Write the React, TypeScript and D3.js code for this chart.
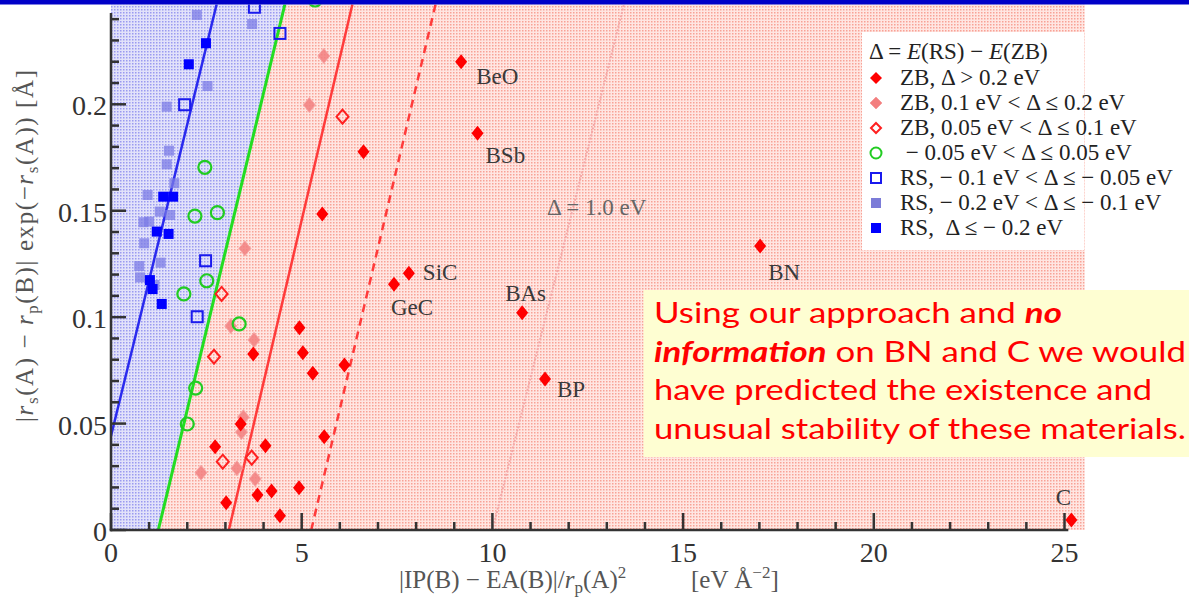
import * as d3 from 'd3';

// axis ticks
const xTicks = [0, 5, 10, 15, 20, 25];
const xTickLabels = ['0', '5', '10', '15', '20', '25'];
const yTicks = [0, 0.05, 0.1, 0.15, 0.2];
const yTickLabels = ['0', '0.05', '0.1', '0.15', '0.2'];

// ZB, Δ > 0.2 eV
const zbStrong = [
  [9.18, 0.22], [9.61, 0.1864], [7.81, 0.1206], [7.42, 0.1154], [10.78, 0.1021],
  [11.38, 0.0709], [17.02, 0.1334], [25.18, 0.0047], [6.62, 0.1777], [5.54, 0.1485],
  [4.94, 0.095], [5.03, 0.0833], [5.29, 0.0736], [6.12, 0.0775], [5.59, 0.0438],
  [3.73, 0.0827], [3.4, 0.0498], [2.73, 0.0391], [4.05, 0.0396], [3.84, 0.0164],
  [4.21, 0.0183], [3.02, 0.0128], [4.43, 0.0067], [4.93, 0.0199],
];
// ZB, 0.1 eV < Δ ≤ 0.2 eV
const zbMid = [
  [5.58, 0.2227], [5.2, 0.1997], [3.51, 0.1323], [3.14, 0.0958], [3.75, 0.0893],
  [3.47, 0.053], [3.42, 0.046], [2.36, 0.0269], [3.3, 0.029], [3.78, 0.024],
];
// ZB, 0.05 eV < Δ ≤ 0.1 eV
const zbWeak = [[6.07, 0.1942], [2.9, 0.1109], [2.7, 0.0814], [2.93, 0.0321], [3.69, 0.034]];
// −0.05 eV < Δ ≤ 0.05 eV
const neutral = [
  [5.35, 0.249], [2.46, 0.1704], [2.2, 0.1475], [2.79, 0.1491], [2.51, 0.1171],
  [1.91, 0.1109], [2.22, 0.0667], [2.0, 0.0498], [3.36, 0.0968],
];
// RS, −0.1 eV < Δ ≤ −0.05 eV
const rsWeak = [[3.76, 0.2456], [4.43, 0.2333], [1.93, 0.1998], [2.48, 0.1265], [2.26, 0.1002]];
// RS, −0.2 eV < Δ ≤ −0.1 eV
const rsMid = [
  [2.25, 0.242], [3.7, 0.2377], [2.53, 0.2086], [1.46, 0.1989], [1.52, 0.1782],
  [1.46, 0.1718], [1.66, 0.1629], [0.96, 0.1574], [1.28, 0.1496], [1.55, 0.148],
  [0.85, 0.1446], [1.0, 0.1449], [0.87, 0.1347], [0.74, 0.124], [1.3, 0.1256],
  [0.76, 0.1187], [1.14, 0.1151],
];
// RS, Δ ≤ −0.2 eV
const rsStrong = [
  [2.49, 0.2287], [2.04, 0.2188], [1.37, 0.1566], [1.63, 0.1566], [1.2, 0.1402],
  [1.51, 0.1391], [1.02, 0.1174], [1.09, 0.1132], [1.33, 0.1062],
];

// named materials
const materials = ['BeO', 'BSb', 'SiC', 'GeC', 'BAs', 'BP', 'BN', 'C'];
const materialX = [9.18, 9.61, 7.81, 7.42, 10.78, 11.38, 17.02, 25.18];
const materialY = [0.22, 0.1864, 0.1206, 0.1154, 0.1021, 0.0709, 0.1334, 0.0047];

// boundary lines, [x, y] at bottom and top of the frame
const blueLine = [[0, 0.0442], [2.77, 0.247]];
const greenLine = [[1.24, 0], [4.56, 0.247]];
const redLine = [[3.09, 0], [6.33, 0.247]];
const redDashed = [[5.25, 0], [8.51, 0.247]];
const oneEvLine = [[10.0, 0], [13.45, 0.247]];

const legendRows = [
  'ZB, Δ > 0.2 eV',
  'ZB, 0.1 eV < Δ ≤ 0.2 eV',
  'ZB, 0.05 eV < Δ ≤ 0.1 eV',
  ' − 0.05 eV < Δ ≤ 0.05 eV',
  'RS, − 0.1 eV < Δ ≤ − 0.05 eV',
  'RS, − 0.2 eV < Δ ≤ − 0.1 eV',
  'RS,  Δ ≤ − 0.2 eV',
];

const noteLines = [
  [['Using our approach and ', false], ['no', true]],
  [['information', true], [' on BN and C we would', false]],
  [['have predicted the existence and', false]],
  [['unusual stability of these materials.', false]],
];

const serif = '"Liberation Serif", "DejaVu Serif", serif';

// label offsets in px for the material names
const labelOffset = {
  BeO: [15, 22, 'start'], BSb: [8, 30, 'start'], SiC: [14, 7, 'start'], GeC: [-3, 31, 'start'],
  BAs: [-17, -12, 'start'], BP: [12, 18, 'start'], BN: [8, 34, 'start'], C: [-8, -15, 'middle'],
};
// rendered width of each note line (the slide font is stretched)
const noteWidths = [408, 532, 498, 532];

const diamond = (w, h) => `M0,${-h / 2}L${w / 2},0L0,${h / 2}L${-w / 2},0Z`;

export default function App() {
  const x = d3.scaleLinear().domain([0, 25]).range([111, 1064.5]);
  const y = d3.scaleLinear().domain([0, 0.2]).range([530, 104.3]);
  const top = 4.5;
  const left = x(0);
  const right = x(25.53);
  const bottom = y(0);
  const yTop = y.invert(top);

  const line = d3.line().x(d => x(d[0])).y(d => y(d[1]));
  const gx = d3.scaleLinear().domain([greenLine[0][1], greenLine[1][1]]).range([greenLine[0][0], greenLine[1][0]]);
  const bluePoly = [[0, 0], [0, yTop], [gx(yTop), yTop], [gx(0), 0]];
  const pinkPoly = [[gx(0), 0], [gx(yTop), yTop], [25.53, yTop], [25.53, 0]];
  const poly = pts => 'M' + pts.map(p => `${x(p[0])},${y(p[1])}`).join('L') + 'Z';

  const xMinor = d3.range(0, 26, 1).filter(v => v % 5 !== 0);
  const yMinor = d3.range(0, 0.245, 0.01).filter((v, i) => i % 5 !== 0);

  const legendBase = [85, 110, 135, 160, 185, 210, 235];
  const symbols = [
    (cx, cy) => <path transform={`translate(${cx},${cy})`} d={diamond(12, 12)} fill="#ff0000" />,
    (cx, cy) => <path transform={`translate(${cx},${cy})`} d={diamond(12, 12)} fill="#f37f7f" stroke="#f6a0a0" />,
    (cx, cy) => <path transform={`translate(${cx},${cy})`} d={diamond(10, 10)} fill="none" stroke="#ff2020" strokeWidth={2} />,
    (cx, cy) => <circle cx={cx} cy={cy} r={5.5} fill="none" stroke="#22cc22" strokeWidth={2} />,
    (cx, cy) => <rect x={cx - 5} y={cy - 5} width={10} height={10} fill="none" stroke="#1a1aee" strokeWidth={2} />,
    (cx, cy) => <rect x={cx - 5} y={cy - 5} width={10} height={10} fill="#7c7cd8" />,
    (cx, cy) => <rect x={cx - 5} y={cy - 5} width={10} height={10} fill="#0000ff" />,
  ];

  return (
    <div style={{ position: 'absolute', left: 0, top: 0 }}>
      <svg width={1189} height={600} style={{ display: 'block', background: '#fff' }}>
        <defs>
          <pattern id="pb" width={3} height={3} patternUnits="userSpaceOnUse">
            <rect width={3} height={3} fill="#e2e2fa" />
            <rect width={1.5} height={1.5} fill="#9a9af0" />
          </pattern>
          <pattern id="pp" width={3} height={3} patternUnits="userSpaceOnUse">
            <rect width={3} height={3} fill="#ffe6e2" />
            <rect width={1.5} height={1.5} fill="#f8a296" />
          </pattern>
          <clipPath id="plot">
            <rect x={left} y={top} width={right - left} height={bottom - top + 10} />
          </clipPath>
        </defs>

        <path d={poly(bluePoly)} fill="url(#pb)" />
        <path d={poly(pinkPoly)} fill="url(#pp)" />

        <g clipPath="url(#plot)" fill="none">
          <path d={line(oneEvLine)} stroke="#f4a8a8" strokeWidth={2} strokeDasharray="2,1.5" />
          <path d={line(blueLine)} stroke="#2a2aee" strokeWidth={2.5} />
          <path d={line(greenLine)} stroke="#22dd22" strokeWidth={3} />
          <path d={line(redLine)} stroke="#ff3b3b" strokeWidth={2.5} />
          <path d={line(redDashed)} stroke="#ff3b3b" strokeWidth={2.5} strokeDasharray="8,6" />
        </g>

        <text x={547} y={215} fontFamily={serif} fontSize={23} fill="#666">Δ = 1.0 eV</text>

        <g clipPath="url(#plot)">
          {rsMid.map((d, i) => (
            <rect key={'rm' + i} x={x(d[0]) - 5} y={y(d[1]) - 5} width={10} height={10} fill="#7c7ce6" opacity={0.75} />
          ))}
          {zbMid.map((d, i) => (
            <path key={'zm' + i} transform={`translate(${x(d[0])},${y(d[1])})`} d={diamond(12, 15)} fill="#f37f7f" stroke="#f6a0a0" opacity={0.85} />
          ))}
          {neutral.map((d, i) => (
            <circle key={'n' + i} cx={x(d[0])} cy={y(d[1])} r={6.5} fill="none" stroke="#22cc22" strokeWidth={2.2} />
          ))}
          {rsWeak.map((d, i) => (
            <rect key={'rw' + i} x={x(d[0]) - 5.5} y={y(d[1]) - 5.5} width={11} height={11} fill="none" stroke="#1a1aee" strokeWidth={2} />
          ))}
          {zbWeak.map((d, i) => (
            <path key={'zw' + i} transform={`translate(${x(d[0])},${y(d[1])})`} d={diamond(12, 14)} fill="none" stroke="#ff2020" strokeWidth={2} />
          ))}
          {zbStrong.map((d, i) => (
            <path key={'zs' + i} transform={`translate(${x(d[0])},${y(d[1])})`} d={diamond(12, 15)} fill="#ff0000" />
          ))}
          {rsStrong.map((d, i) => (
            <rect key={'rs' + i} x={x(d[0]) - 5} y={y(d[1]) - 5} width={10} height={10} fill="#0000ff" />
          ))}
        </g>

        {materials.map((m, i) => {
          const o = labelOffset[m];
          return (
            <text key={m} x={x(materialX[i]) + o[0]} y={y(materialY[i]) + o[1]} textAnchor={o[2]}
              fontFamily={serif} fontSize={23} fill="#3a3a3a">{m}</text>
          );
        })}

        {/* axes */}
        <g stroke="#333" strokeWidth={2.5}>
          <line x1={left} x2={left} y1={13} y2={bottom + 1.2} />
          <line x1={left - 1.2} x2={x(25.1)} y1={bottom} y2={bottom} />
          {xTicks.map(t => <line key={'xt' + t} x1={x(t)} x2={x(t)} y1={bottom} y2={bottom - 17} />)}
          {xMinor.map(t => <line key={'xm' + t} x1={x(t)} x2={x(t)} y1={bottom} y2={bottom - 8} />)}
          {yTicks.map(t => <line key={'yt' + t} x1={left} x2={left + 15} y1={y(t)} y2={y(t)} />)}
          {yMinor.map(t => <line key={'ym' + t} x1={left} x2={left + 8} y1={y(t)} y2={y(t)} />)}
        </g>
        {xTicks.map((t, i) => (
          <text key={'xl' + t} x={x(t)} y={562} textAnchor="middle" fontFamily={serif} fontSize={28} fill="#333">{xTickLabels[i]}</text>
        ))}
        {yTicks.map((t, i) => (
          <text key={'yl' + t} x={107} y={y(t) + 1.5} textAnchor="end" dominantBaseline="central" fontFamily={serif} fontSize={28} fill="#333">{yTickLabels[i]}</text>
        ))}

        {/* axis titles */}
        <text transform="translate(33,246) rotate(-90)" textAnchor="middle" fontFamily={serif} fontSize={25} fill="#555"
          textLength={352} lengthAdjust="spacing">
          |<tspan fontStyle="italic">r</tspan><tspan fontSize={17} dy={5}>s</tspan><tspan dy={-5}>(A) − </tspan>
          <tspan fontStyle="italic">r</tspan><tspan fontSize={17} dy={5}>p</tspan><tspan dy={-5}>(B)| exp(−</tspan>
          <tspan fontStyle="italic">r</tspan><tspan fontSize={17} dy={5}>s</tspan><tspan dy={-5}>(A))  [Å]</tspan>
        </text>
        <text x={399} y={588} fontFamily={serif} fontSize={25} fill="#555">
          |IP(B) − EA(B)|/<tspan fontStyle="italic">r</tspan><tspan fontSize={17} dy={5}>p</tspan>
          <tspan dy={-5}>(A)</tspan><tspan fontSize={17} dy={-10}>2</tspan>
        </text>
        <text x={691} y={588} fontFamily={serif} fontSize={25} fill="#555">
          [eV Å<tspan fontSize={17} dy={-10}>−2</tspan><tspan dy={10}>]</tspan>
        </text>

        {/* legend */}
        <rect x={862} y={32} width={222} height={218} fill="#fff" />
        <text x={869} y={59} fontFamily={serif} fontSize={23} fill="#222">
          Δ  = <tspan fontStyle="italic">E</tspan>(RS) − <tspan fontStyle="italic">E</tspan>(ZB)
        </text>
        {legendRows.map((r, i) => (
          <g key={'lg' + i}>
            {symbols[i](876, legendBase[i] - 7)}
            <text x={900} y={legendBase[i]} fontFamily={serif} fontSize={23} fill="#222" style={{ whiteSpace: 'pre' }}>{r}</text>
          </g>
        ))}

        {/* note */}
        <rect x={643.5} y={290} width={546} height={167} fill="#fefed2" />
        {noteLines.map((ln, i) => (
          <text key={'nl' + i} x={654} y={323 + i * 38.5} fontFamily="Lato, 'Open Sans', sans-serif" fontSize={29} fill="#ff0000"
            textLength={noteWidths[i]} lengthAdjust="spacingAndGlyphs">
            {ln.map((s, j) => (
              <tspan key={j} fontWeight={s[1] ? 'bold' : 'normal'} fontStyle={s[1] ? 'italic' : 'normal'} style={{ whiteSpace: 'pre' }}>{s[0]}</tspan>
            ))}
          </text>
        ))}

        <rect x={0} y={0} width={1189} height={top} fill="#0000c8" />
      </svg>
    </div>
  );
}
